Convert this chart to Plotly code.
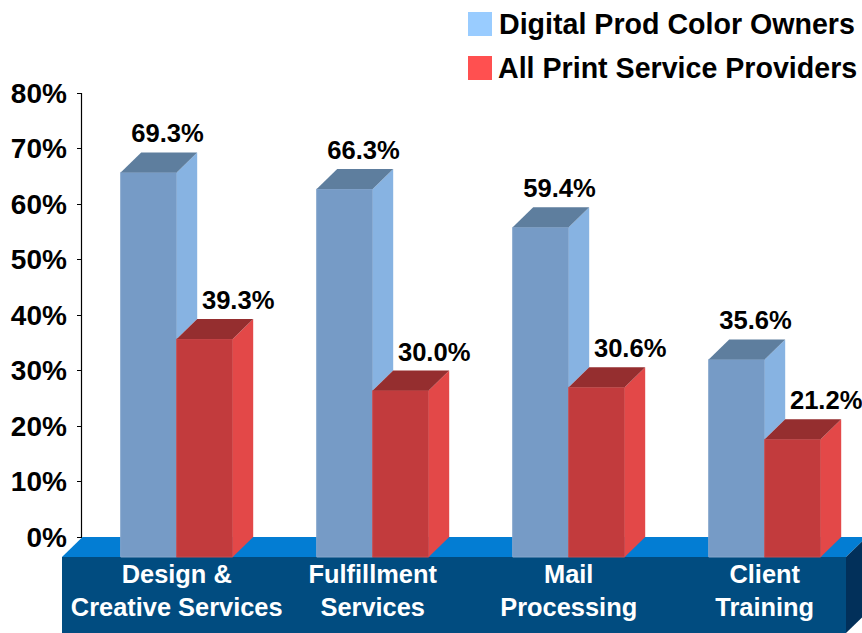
import plotly.graph_objects as go

# ---- data ----
categories = ["Design &<br>Creative Services", "Fulfillment<br>Services", "Mail<br>Processing", "Client<br>Training"]
series_names = ["Digital Prod Color Owners", "All Print Service Providers"]
digital_values = [69.3, 66.3, 59.4, 35.6]
print_values = [39.3, 30.0, 30.6, 21.2]
y_ticks = [0, 10, 20, 30, 40, 50, 60, 70, 80]

# ---- scene geometry (axis units) ----
W, H = 862, 633
PX_X = 196.0          # px per category
PX_Y = 5.55           # px per percent
X_ORIGIN = 176.7      # px of category 0 centre
Y_ORIGIN = 537.0      # px of 0%
BAR_W = 56 / PX_X
DX = 20.5 / PX_X      # depth, horizontal
DY = 20 / PX_Y        # depth, vertical
SLAB_L = (62 - X_ORIGIN) / PX_X
SLAB_R = (846 - X_ORIGIN) / PX_X
x_range = [-X_ORIGIN / PX_X, (W - X_ORIGIN) / PX_X]
y_range = [(Y_ORIGIN - H) / PX_Y, Y_ORIGIN / PX_Y]
AXIS_X = (81.5 - X_ORIGIN) / PX_X
FONT = "Liberation Sans, Arial, sans-serif"

C = dict(
    blue_front="#769BC6", blue_side="#87B3E2", blue_top="#5E7E9E",
    red_front="#C23B3D", red_side="#E34848", red_top="#952E2F",
    slab_front="#014C80", slab_top="#037DD3", slab_side="#02305A",
    legend_blue="#99CCFF", legend_red="#FF5050",
)

fig = go.Figure()
xs = list(range(len(categories)))


def poly(px, py, color):
    fig.add_trace(go.Scatter(x=px, y=py, mode="lines", line=dict(width=0), fill="toself",
                             fillcolor=color, hoverinfo="skip", showlegend=False))


# front faces
fig.add_trace(go.Bar(x=xs, y=digital_values, base=-DY, width=BAR_W, offset=-BAR_W, name=series_names[0],
                     marker=dict(color=C["blue_front"], line=dict(color="#86A6CC", width=1)), showlegend=False))
fig.add_trace(go.Bar(x=xs, y=print_values, base=-DY, width=BAR_W, offset=0, name=series_names[1],
                     marker=dict(color=C["red_front"], line=dict(color="#C84E50", width=1)), showlegend=False))

# side and top faces
for i, (b, r) in zip(xs, zip(digital_values, print_values)):
    poly([i, i + DX, i + DX, i], [b - DY, b, r, r - DY], C["blue_side"])
    poly([i - BAR_W, i, i + DX, i - BAR_W + DX], [b - DY, b - DY, b, b], C["blue_top"])
    poly([i + BAR_W, i + BAR_W + DX, i + BAR_W + DX, i + BAR_W], [r - DY, r, 0, -DY], C["red_side"])
    poly([i, i + BAR_W, i + BAR_W + DX, i + DX], [r - DY, r - DY, r, r], C["red_top"])

# value labels
LBL = 2.95
fig.add_trace(go.Scatter(x=[i - BAR_W / 2 + 18.8 / PX_X for i in xs], y=[v + LBL for v in digital_values],
                         mode="text", text=[f"{v:.1f}%" for v in digital_values], textposition="middle center",
                         textfont=dict(family=FONT, size=25.6, color="black", weight="bold"),
                         hoverinfo="skip", showlegend=False, cliponaxis=False))
fig.add_trace(go.Scatter(x=[i + BAR_W / 2 + 33.5 / PX_X for i in xs], y=[v + LBL for v in print_values],
                         mode="text", text=[f"{v:.1f}%" for v in print_values], textposition="middle center",
                         textfont=dict(family=FONT, size=25.6, color="black", weight="bold"),
                         hoverinfo="skip", showlegend=False, cliponaxis=False))

# value axis line
fig.add_trace(go.Scatter(x=[AXIS_X, AXIS_X], y=[y_ticks[0], y_ticks[-1]], mode="lines",
                         line=dict(color="black", width=1.2), hoverinfo="skip", showlegend=False))

# slab under the bars
def path(pts):
    return "M " + " L ".join(f"{a},{b}" for a, b in pts) + " Z"


shapes = [
    dict(type="path", layer="below", xref="x", yref="y", line_width=0, fillcolor=C["slab_top"],
         path=path([(SLAB_L, -DY), (SLAB_L + DX, 0), (SLAB_R + DX, 0), (SLAB_R, -DY)])),
    dict(type="path", layer="below", xref="x", yref="y", line_width=0, fillcolor=C["slab_side"],
         path=path([(SLAB_R, -DY), (SLAB_R + DX, 0), (SLAB_R + DX, y_range[0] + DY), (SLAB_R, y_range[0])])),
    dict(type="rect", layer="below", xref="x", yref="y", line_width=0, fillcolor=C["slab_front"],
         x0=SLAB_L, x1=SLAB_R, y0=y_range[0], y1=-DY),
    dict(type="rect", xref="paper", yref="paper", line_width=0, fillcolor=C["legend_blue"],
         x0=468 / W, x1=492 / W, y0=1 - 36 / H, y1=1 - 12 / H),
    dict(type="rect", xref="paper", yref="paper", line_width=0, fillcolor=C["legend_red"],
         x0=468 / W, x1=492 / W, y0=1 - 80 / H, y1=1 - 56 / H),
]

annotations = [
    dict(text=f"<b>{series_names[0]}</b>", xref="paper", yref="paper", x=497 / W, y=1 - 24.5 / H,
         xanchor="left", yanchor="middle", showarrow=False, font=dict(family=FONT, size=28.6, color="black")),
    dict(text=f"<b>{series_names[1]}</b>", xref="paper", yref="paper", x=496 / W, y=1 - 68.5 / H,
         xanchor="left", yanchor="middle", showarrow=False, font=dict(family=FONT, size=28.6, color="black")),
]

fig.update_layout(
    width=W, height=H, margin=dict(l=0, r=0, t=0, b=0, pad=0),
    paper_bgcolor="white", plot_bgcolor="rgba(0,0,0,0)", showlegend=False, barmode="overlay",
    shapes=shapes, annotations=annotations,
    xaxis=dict(range=x_range, domain=[0, 1], anchor="free", position=(H - 557) / H, showgrid=False, zeroline=False,
               showline=False, tickmode="array", tickvals=xs, ticktext=[f"<b>{c.replace('<br>', '</b><br><b>')}</b>" for c in categories],
               ticks="", tickangle=0, tickfont=dict(family=FONT, size=25.4, color="white"), ticklabelstandoff=0),
    yaxis=dict(range=y_range, domain=[0, 1], anchor="free", position=81.5 / W, showgrid=False, zeroline=False,
               showline=False, tickmode="array", tickvals=y_ticks, ticktext=[f"<b>{t}%</b>" for t in y_ticks],
               ticks="outside", ticklen=5, tickwidth=1, tickcolor="black",
               tickfont=dict(family=FONT, size=28, color="black"), ticklabelstandoff=4),
)

fig.write_html("out.html", config=dict(displayModeBar=False),
               post_script="document.body.style.margin='0';")
